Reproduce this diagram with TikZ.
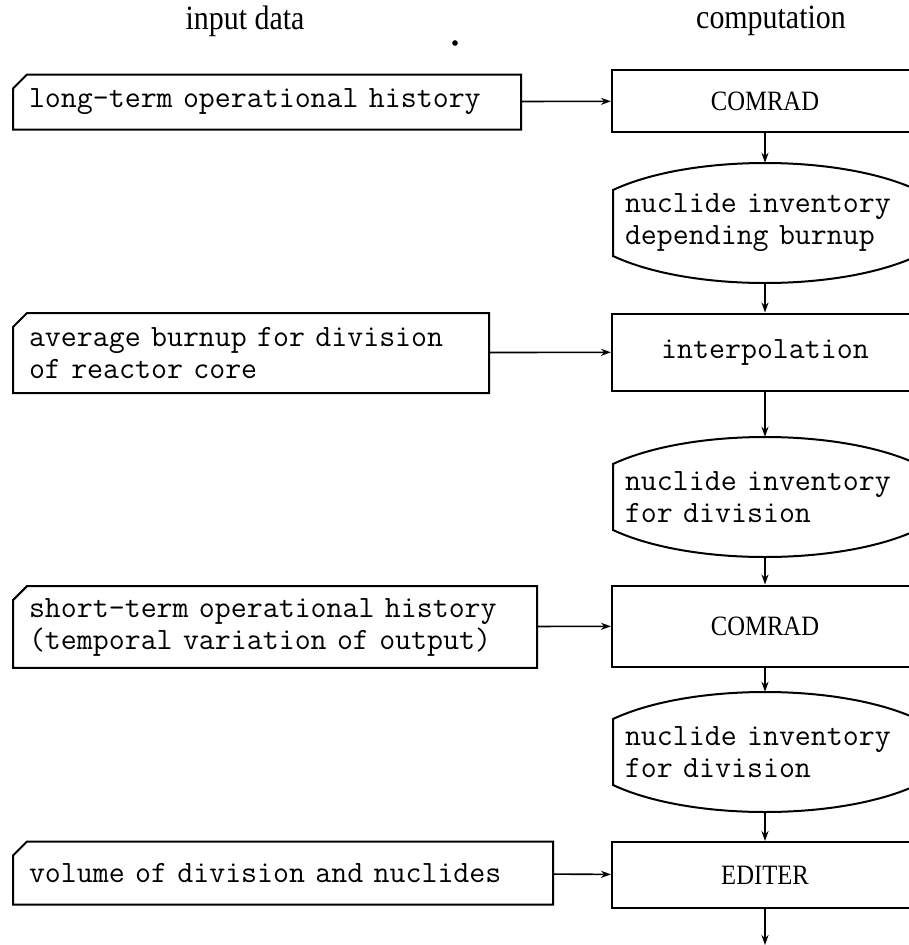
\documentclass[tikz,border=0pt]{standalone}
\usepackage{fontspec}
\usepackage{tikz}
\usetikzlibrary{positioning,arrows.meta,shapes.misc}
\newfontfamily\titlefont[FakeStretch=0.88]{Liberation Serif}
\newcommand{\typetext}{\ttfamily\fontsize{31}{32}\selectfont}

\tikzset{
  inbox/.style={draw, line width=2pt, chamfered rectangle,
    chamfered rectangle corners=north west,
    chamfered rectangle xsep=6pt, chamfered rectangle ysep=8pt,
    anchor=west, inner xsep=10pt, inner ysep=4pt, align=left, text width=#1,
    font=\typetext},
  procbox/.style={draw, line width=2pt, minimum width=306pt, font=\typetext},
  invtext/.style={minimum width=304pt, minimum height=120pt, text width=280pt,
    align=left, inner sep=0pt, font=\typetext},
  flow/.style={-{Stealth[length=10pt,width=7pt]}, line width=1.6pt},
}

\begin{document}
\begin{tikzpicture}[x=1pt,y=-1pt]
	% Seitenrahmen in Pixeln
	\clip (0,0) rectangle (909,945);

	% Spaltenkoepfe
	\node[font=\titlefont\fontsize{34}{40}\selectfont] (inhead) at (245,21) {input data};
	\node[font=\titlefont\fontsize{34}{40}\selectfont] (comphead) at (771,21) {computation};
	\node[circle, fill, inner sep=2pt] (speck) at (455,43) {};

	% Eingabedaten (links)
	\node[inbox=476pt, minimum height=55pt] (longterm) at (12,102) {long-term operational history};
	\node[inbox=444pt, minimum height=80pt] (burnup) at (12,353) {average burnup for division\\of reactor core};
	\node[inbox=492pt, minimum height=78pt] (shortterm) at (12,627) {short-term operational history\\(temporal variation of output)};
	\node[inbox=508pt, minimum height=63pt] (volume) at (12,873) {volume of division and nuclides};

	% Rechenschritte (rechts)
	\node[procbox, minimum height=62pt, font=\titlefont\fontsize{28}{32}\selectfont] (comradA) at (765,101) {COMRAD};
	\node[procbox, minimum height=77pt] (interp) at (765,352) {interpolation};
	\node[procbox, minimum height=81pt, font=\titlefont\fontsize{28}{32}\selectfont] (comradB) at (765,626) {COMRAD};
	\node[procbox, minimum height=66pt, font=\titlefont\fontsize{28}{32}\selectfont] (editer) at (765,875) {EDITER};

	% Nuklidinventar (Datenformen)
	\node[invtext] (invA) at (765,223) {nuclide inventory\\depending burnup};
	\node[invtext] (invB) at (765,497) {nuclide inventory\\for division};
	\node[invtext] (invC) at (765,752) {nuclide inventory\\for division};
	\foreach \c in {223,497,752}
		\draw[line width=2pt] (613,{\c-33}) .. controls (690,{\c-69}) and (840,{\c-69}) .. (917,{\c-33})
			-- (917,{\c+33}) .. controls (840,{\c+69}) and (690,{\c+69}) .. (613,{\c+33}) -- cycle;

	% Datenfluss
	\coordinate (out) at (765,945);
	\draw[flow] (longterm) -- (comradA);
	\draw[flow] (burnup) -- (interp);
	\draw[flow] (shortterm) -- (comradB);
	\draw[flow] (volume) -- (editer);
	\draw[flow] (comradA) -- (invA);
	\draw[flow] (invA) -- (interp);
	\draw[flow] (interp) -- (invB);
	\draw[flow] (invB) -- (comradB);
	\draw[flow] (comradB) -- (invC);
	\draw[flow] (invC) -- (editer);
	\draw[flow] (editer) -- (out);
\end{tikzpicture}
\end{document}
